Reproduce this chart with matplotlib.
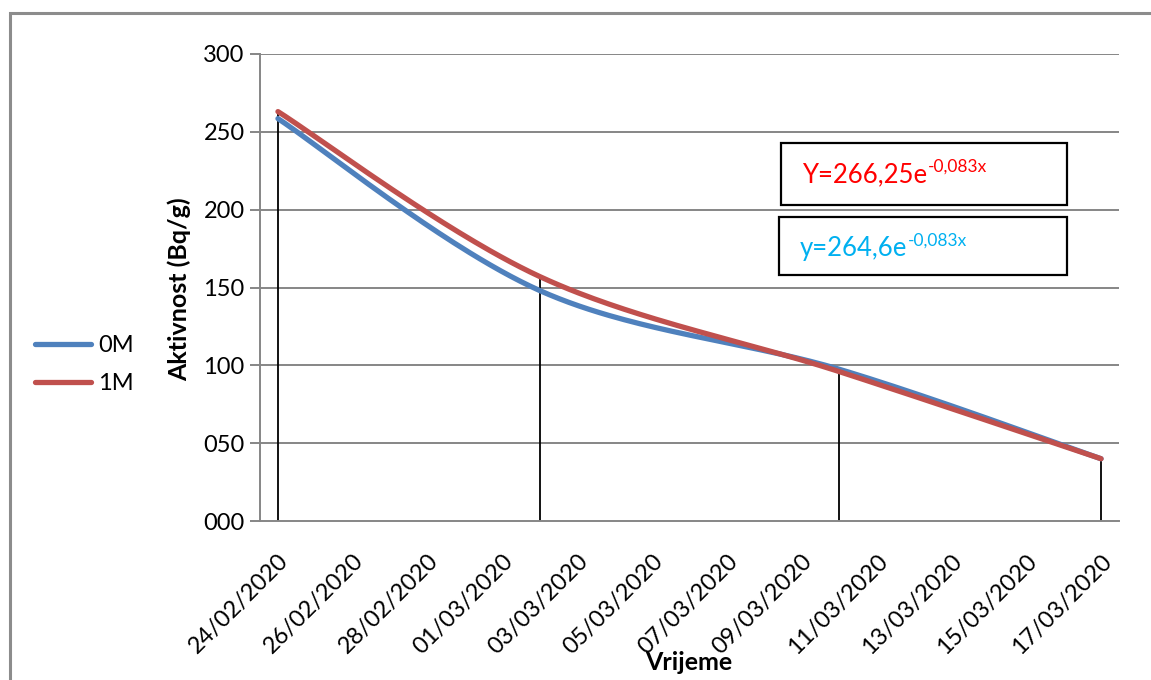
import numpy as np
import pandas as pd
import matplotlib
matplotlib.use("Agg")
import matplotlib.pyplot as plt
import matplotlib.dates as mdates
from matplotlib.patches import Rectangle
from matplotlib.transforms import ScaledTranslation


# ==========================
# DATA
# ==========================

dates = ["2020-02-24", "2020-03-02", "2020-03-10", "2020-03-17"]
act_0m = [258.5, 148, 97.5, 40]
act_1m = [263, 157, 96, 40]

tick_dates = pd.date_range("2020-02-24", "2020-03-17", freq="2D")
y_ticks = [0, 50, 100, 150, 200, 250, 300]

eq_red = ("Y=266,25e", "-0,083x")
eq_blue = ("y=264,6e", "-0,083x")

BLUE = "#4F81BD"
RED = "#C0504D"
GRID = "#868686"

plt.rcParams["font.family"] = ["Lato", "DejaVu Sans"]


def smooth(x, y, n=60):
    # excel-like smoothed line (catmull-rom bezier)
    x = np.asarray(x, float)
    y = np.asarray(y, float)
    px = np.concatenate([[x[0]], x, [x[-1]]])
    py = np.concatenate([[y[0]], y, [y[-1]]])
    xs, ys = [], []
    t = np.linspace(0, 1, n)
    for i in range(1, len(px) - 2):
        p0 = np.array([px[i], py[i]])
        p3 = np.array([px[i + 1], py[i + 1]])
        p1 = p0 + (p3 - np.array([px[i - 1], py[i - 1]])) / 6
        p2 = p3 - (np.array([px[i + 2], py[i + 2]]) - p0) / 6
        b = ((1 - t) ** 3)[:, None] * p0 + (3 * (1 - t) ** 2 * t)[:, None] * p1 \
            + (3 * (1 - t) * t ** 2)[:, None] * p2 + (t ** 3)[:, None] * p3
        xs.append(b[:, 0])
        ys.append(b[:, 1])
    return np.concatenate(xs), np.concatenate(ys)


x = mdates.date2num(pd.to_datetime(dates))

fig = plt.figure(figsize=(11.51, 6.80), dpi=100)
W, H = 1151, 680
ax = fig.add_axes([260 / W, 1 - 521 / H, (1119 - 260) / W, (521 - 54) / H])

# outer frame
fig.patches.append(Rectangle((10 / W, -0.05), 1.2, 1 - 13 / H + 0.05,
                             transform=fig.transFigure, fill=False,
                             edgecolor="#8C8C8C", linewidth=2.2))

for yv in y_ticks[1:]:
    ax.axhline(yv, color=GRID, linewidth=1.4, zorder=1)

# drop lines
tops = np.maximum(act_0m, act_1m)
ax.vlines(x, 0, tops, color="black", linewidth=1.3, zorder=2)

sx, sy = smooth(x, act_0m)
ax.plot(sx, sy, color=BLUE, linewidth=3.8, label="0M", zorder=3,
        solid_capstyle="round")
sx, sy = smooth(x, act_1m)
ax.plot(sx, sy, color=RED, linewidth=3.8, label="1M", zorder=4,
        solid_capstyle="round")

ax.set_xlim(x[0] - 0.48, x[-1] + 0.48)
ax.set_ylim(0, 300)
ax.set_yticks(y_ticks)
ax.set_yticklabels([f"{v:03d}" for v in y_ticks])
ax.set_xticks(mdates.date2num(tick_dates))
ax.set_xticklabels([d.strftime("%d/%m/%Y") for d in tick_dates],
                   rotation=45, ha="right", va="top",
                   rotation_mode="anchor")
shift = ScaledTranslation(13 / 100, 0, fig.dpi_scale_trans)
for lab in ax.get_xticklabels():
    lab.set_transform(lab.get_transform() + shift)

for s in ["top", "right"]:
    ax.spines[s].set_visible(False)
ax.spines["left"].set_color(GRID)
ax.spines["bottom"].set_color(GRID)
ax.spines["left"].set_linewidth(1.4)
ax.spines["bottom"].set_linewidth(1.4)
ax.tick_params(axis="y", length=7, width=1.4, color=GRID, labelsize=17, pad=4)
ax.tick_params(axis="x", length=0, labelsize=17, pad=21)

fig.text(179 / W, 1 - 289 / H, "Aktivnost (Bq/g)", rotation=90,
         fontsize=18, fontweight="bold", ha="center", va="center")
fig.text(689 / W, 1 - 663 / H, "Vrijeme", fontsize=18,
         fontweight="bold", ha="center", va="center")

fig.legend(loc="upper left", bbox_to_anchor=(14 / W, 1 - 314 / H),
           frameon=False, fontsize=17, handlelength=2.35,
           labelspacing=0.72, handletextpad=0.3)

# equation boxes
for (x0, y0, x1, y1) in [(781, 143, 1067, 205), (779, 217, 1067, 275)]:
    fig.patches.append(Rectangle((x0 / W, 1 - y1 / H), (x1 - x0) / W,
                                 (y1 - y0) / H, transform=fig.transFigure,
                                 fill=False, edgecolor="black",
                                 linewidth=1.6, zorder=5))

fig.canvas.draw()
r = fig.canvas.get_renderer()
for (base, sup), (tx, ty), col in [(eq_red, (802, 182), "#FF0000"),
                                   (eq_blue, (800, 256), "#00B0F0")]:
    t = fig.text(tx / W, 1 - ty / H, base, color=col, fontsize=18.5,
                 ha="left", va="baseline")
    bb = t.get_window_extent(r)
    fig.text(bb.x1 / W + 1 / W, 1 - (ty - 10) / H, sup, color=col,
             fontsize=12.5, ha="left", va="baseline")

fig.savefig("out.png", dpi=100)
